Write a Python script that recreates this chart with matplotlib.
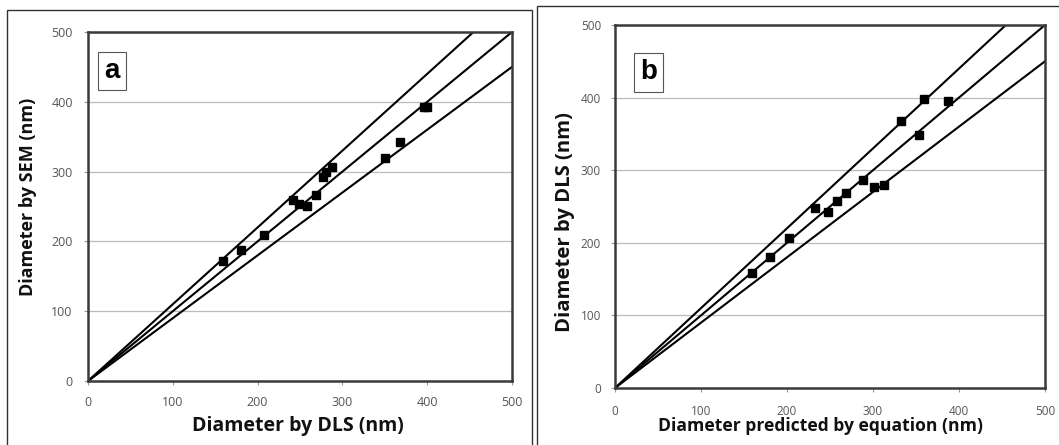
import matplotlib
matplotlib.use("Agg")
import matplotlib.pyplot as plt
from matplotlib.patches import Rectangle
import numpy as np

# Panel a: DLS vs SEM
a_dls = [159, 181, 207, 242, 249, 258, 269, 277, 281, 288, 350, 368, 396, 400]
a_sem = [172, 187, 209, 259, 253, 251, 267, 292, 300, 307, 320, 343, 392, 392]
# Panel b: predicted vs DLS
b_pred = [159, 180, 202, 232, 248, 258, 269, 288, 301, 313, 332, 359, 354, 387]
b_dls = [158, 180, 206, 248, 242, 258, 268, 286, 277, 280, 368, 398, 349, 395]

slopes = [1.1, 1.0, 0.9]
ticks = [0, 100, 200, 300, 400, 500]

W, H = 1059, 445
fig = plt.figure(figsize=(W / 100, H / 100), dpi=100)
plt.rcParams['font.family'] = ['Open Sans', 'DejaVu Sans']

def px_axes(x0, x1, y0, y1):
    return fig.add_axes([x0 / W, 1 - y1 / H, (x1 - x0) / W, (y1 - y0) / H])

# outer panel boxes
fig.patches.append(Rectangle((7 / W, -0.1), (532 - 7) / W, 1.1 - 10 / H,
                             transform=fig.transFigure, fill=False,
                             edgecolor='#333333', lw=1.0))
fig.patches.append(Rectangle((537 / W, -0.1), 0.6, 1.1 - 6 / H,
                             transform=fig.transFigure, fill=False,
                             edgecolor='#333333', lw=1.0))

def panel(ax, xs, ys, letter, lbx, lby, tsize, ypad, xpad):
    xl = np.array([0, 500])
    for s in slopes:
        ax.plot(xl, s * xl, color='black', lw=1.5, zorder=2, clip_on=True)
    ax.plot(xs, ys, 's', color='black', ms=6, zorder=3)
    ax.set_xlim(0, 500)
    ax.set_ylim(0, 500)
    ax.set_xticks(ticks)
    ax.set_yticks(ticks)
    ax.grid(axis='y', color='#bbbbbb', lw=0.9)
    ax.set_axisbelow(True)
    for sp in ax.spines.values():
        sp.set_color('#3a3a3a')
        sp.set_linewidth(1.8)
    ax.tick_params(axis='both', length=3, width=0.8, color='#999999',
                   labelsize=tsize, labelcolor='#555555')
    ax.tick_params(axis='y', pad=ypad)
    ax.tick_params(axis='x', pad=xpad)
    ax.text(lbx, lby, letter, transform=ax.transAxes, fontsize=20,
            fontweight='bold', family='Liberation Sans', va='top', ha='left',
            bbox=dict(boxstyle='square,pad=0.22', fc='white', ec='#555555', lw=0.8))

axa = px_axes(88, 512, 32, 381)
panel(axa, a_dls, a_sem, 'a', 0.038, 0.925, 9, 8, 8)
axb = px_axes(615, 1045, 25, 388)
panel(axb, b_pred, b_dls, 'b', 0.058, 0.905, 8.5, 7, 9)

lab = dict(fontweight='bold', color='#111111', ha='center', va='center')
fig.text(298 / W, 1 - 426 / H, 'Diameter by DLS (nm)', fontsize=14, **lab)
fig.text(28 / W, 1 - 197 / H, 'Diameter by SEM (nm)', rotation=90, fontsize=13, **lab)
fig.text(820 / W, 1 - 426 / H, 'Diameter predicted by equation (nm)', fontsize=12.6, **lab)
fig.text(565 / W, 1 - 222 / H, 'Diameter by DLS (nm)', rotation=90, fontsize=14.6, **lab)

fig.savefig('out.png', dpi=100)
